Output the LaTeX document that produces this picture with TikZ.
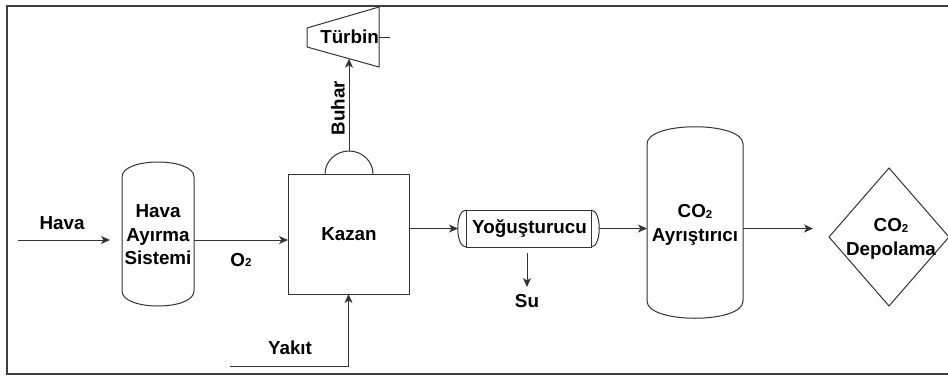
\documentclass[tikz,border=0pt]{standalone}
\usepackage{fontspec}
\setmainfont{Liberation Sans}
\usetikzlibrary{arrows.meta,calc,shapes.geometric}
\newcommand{\subtwo}{{\fontsize{11.5}{11.5}\selectfont\raisebox{-0.5pt}{2}}}
\begin{document}
\begin{tikzpicture}[x=1pt,y=-1pt,
  lbl/.style={font=\fontsize{18.8}{23.5}\selectfont\bfseries, align=center, inner sep=0pt},
  outl/.style={draw=black!80, line width=1pt},
  box/.style={inner sep=0pt, outer sep=0pt},
  flow/.style={draw=black!80, line width=1pt, -{Stealth[length=9pt,width=8pt,inset=2.5pt]}},
  plain/.style={draw=black!80, line width=1pt}]
\useasboundingbox (0,0) rectangle (948,376);
\draw[line width=2pt, black!75] (7,6) rectangle (952,374);

% Hava Ayirma Sistemi (cylinder)
\node[box, minimum width=72pt, minimum height=144pt] (has) at (158,234) {};
\draw[outl] (122,177) -- (122,291) .. controls (122,311) and (194,311) .. (194,291)
  -- (194,177) .. controls (194,157) and (122,157) .. cycle;
\node[lbl] at (158,235) {Hava\\Ayırma\\Sistemi};

% Kazan
\node[box, draw=black!80, line width=1pt, minimum width=121pt, minimum height=120pt] (kazan) at (348.5,234) {};
\node[lbl] at (349,234) {Kazan};
\draw[outl] (325,174) .. controls (325,161.3) and (335.7,151) .. (349,151)
  .. controls (362.3,151) and (373,161.3) .. (373,174);
\coordinate (domeTop) at (349,151);

% Turbine
\draw[outl] (307,28) -- (379,7) -- (379,67) -- (307,47) -- cycle;
\node[lbl] (turb) at (349.5,37) {Türbin};
\coordinate (turbIn) at (349,58.7);
\coordinate (shaftA) at (379,37);
\coordinate (shaftB) at (390,37);
\draw[plain] (shaftA) -- (shaftB);

% Yogusturucu
\node[box, minimum width=125pt, minimum height=37pt] (yog) at (528.5,228.5) {};
\draw[outl] (466,210) rectangle (591,247);
\draw[outl] (466,210) .. controls (455,210) and (455,247) .. (466,247);
\draw[outl] (591,210) .. controls (602,210) and (602,247) .. (591,247);
\node[lbl] at (529.5,229) {Yoğuşturucu};

% CO2 Ayristirici
\node[box, minimum width=96pt, minimum height=191pt] (co2a) at (695,222.5) {};
\draw[outl] (647,144) -- (647,301) .. controls (647,324) and (743,324) .. (743,301)
  -- (743,144) .. controls (743,121) and (647,121) .. cycle;
\node[lbl] at (695,225) {CO\subtwo\\Ayrıştırıcı};

% CO2 Depolama (diamond)
\node[box, minimum width=120pt, minimum height=138pt] (dep) at (889,237) {};
\draw[outl] (829,237) -- (889,168) -- (949,237) -- (889,306) -- cycle;
\node[lbl] at (891,239) {CO\subtwo\\Depolama};

% Connectors
\coordinate (havaIn) at (18,240);
\coordinate (havaEnd) at (110,240);
\draw[flow] (havaIn) -- (havaEnd);
\node[lbl] at (62,223) {Hava};

\draw[flow] ($(has.east)+(0,6)$) -- ($(kazan.west)+(0,6)$);
\node[lbl] at (241,260) {O\subtwo};

\draw[flow] (domeTop) -- (turbIn);
\node[lbl, rotate=90] at (338,108) {Buhar};

\coordinate (yakitIn) at (230,366);
\draw[flow] (yakitIn) -- (kazan.south |- yakitIn) -- (kazan.south);
\node[lbl] at (290,348) {Yakıt};

\draw[flow] (kazan.east |- yog.west) -- ($(yog.west)+(-8,0)$);
\draw[flow] ($(yog.east)+(8,0)$) -- (co2a.west |- yog.east);

\coordinate (suA) at (527,253);
\coordinate (suB) at (527,287);
\draw[flow] (suA) -- (suB);
\node[lbl] at (527,301) {Su};

\coordinate (depIn) at (813,228.5);
\draw[flow] (co2a.east |- depIn) -- (depIn);
\end{tikzpicture}
\end{document}
